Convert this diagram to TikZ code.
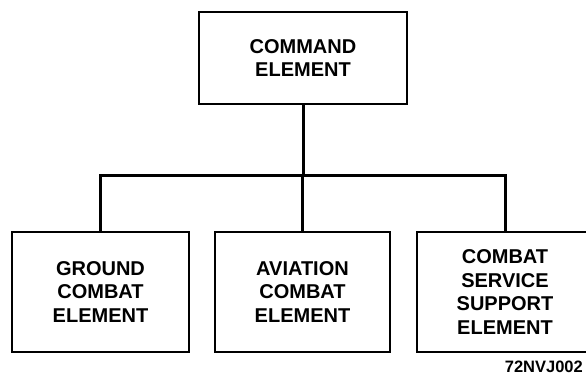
\documentclass[tikz,border=0pt]{standalone}
\usepackage{fontspec}
\setmainfont{Liberation Sans}
\begin{document}
\begin{tikzpicture}[x=1pt,y=-1pt,
  box/.style={draw=black,line width=1.8pt,fill=white,inner sep=0pt,align=center,
    font=\bfseries\fontsize{20}{23.5}\selectfont},
  conn/.style={draw=black,line width=3pt,line join=miter}]
\useasboundingbox (0,0) rectangle (586,375);
\node[box,minimum width=208pt,minimum height=92pt] (top) at (303,58) {COMMAND\\ELEMENT};
\node[box,minimum width=177pt,minimum height=120pt] (g) at (100.5,292) {GROUND\\COMBAT\\ELEMENT};
\node[box,minimum width=175pt,minimum height=120pt] (a) at (302.5,292) {AVIATION\\COMBAT\\ELEMENT};
\node[box,minimum width=176pt,minimum height=120pt] (c) at (505,292) {COMBAT\\SERVICE\\SUPPORT\\ELEMENT};
\coordinate (j) at (302.5,175);
\draw[conn] (top.south) -- (top.south |- j);
\draw[conn] (g.north) |- (j) -| (c.north);
\draw[conn] (j) -- (a.north);
\node[anchor=base east,inner sep=0pt,font=\bfseries\fontsize{16.5}{20}\selectfont] (lbl) at (583,372) {72NVJ002};
\end{tikzpicture}
\end{document}
